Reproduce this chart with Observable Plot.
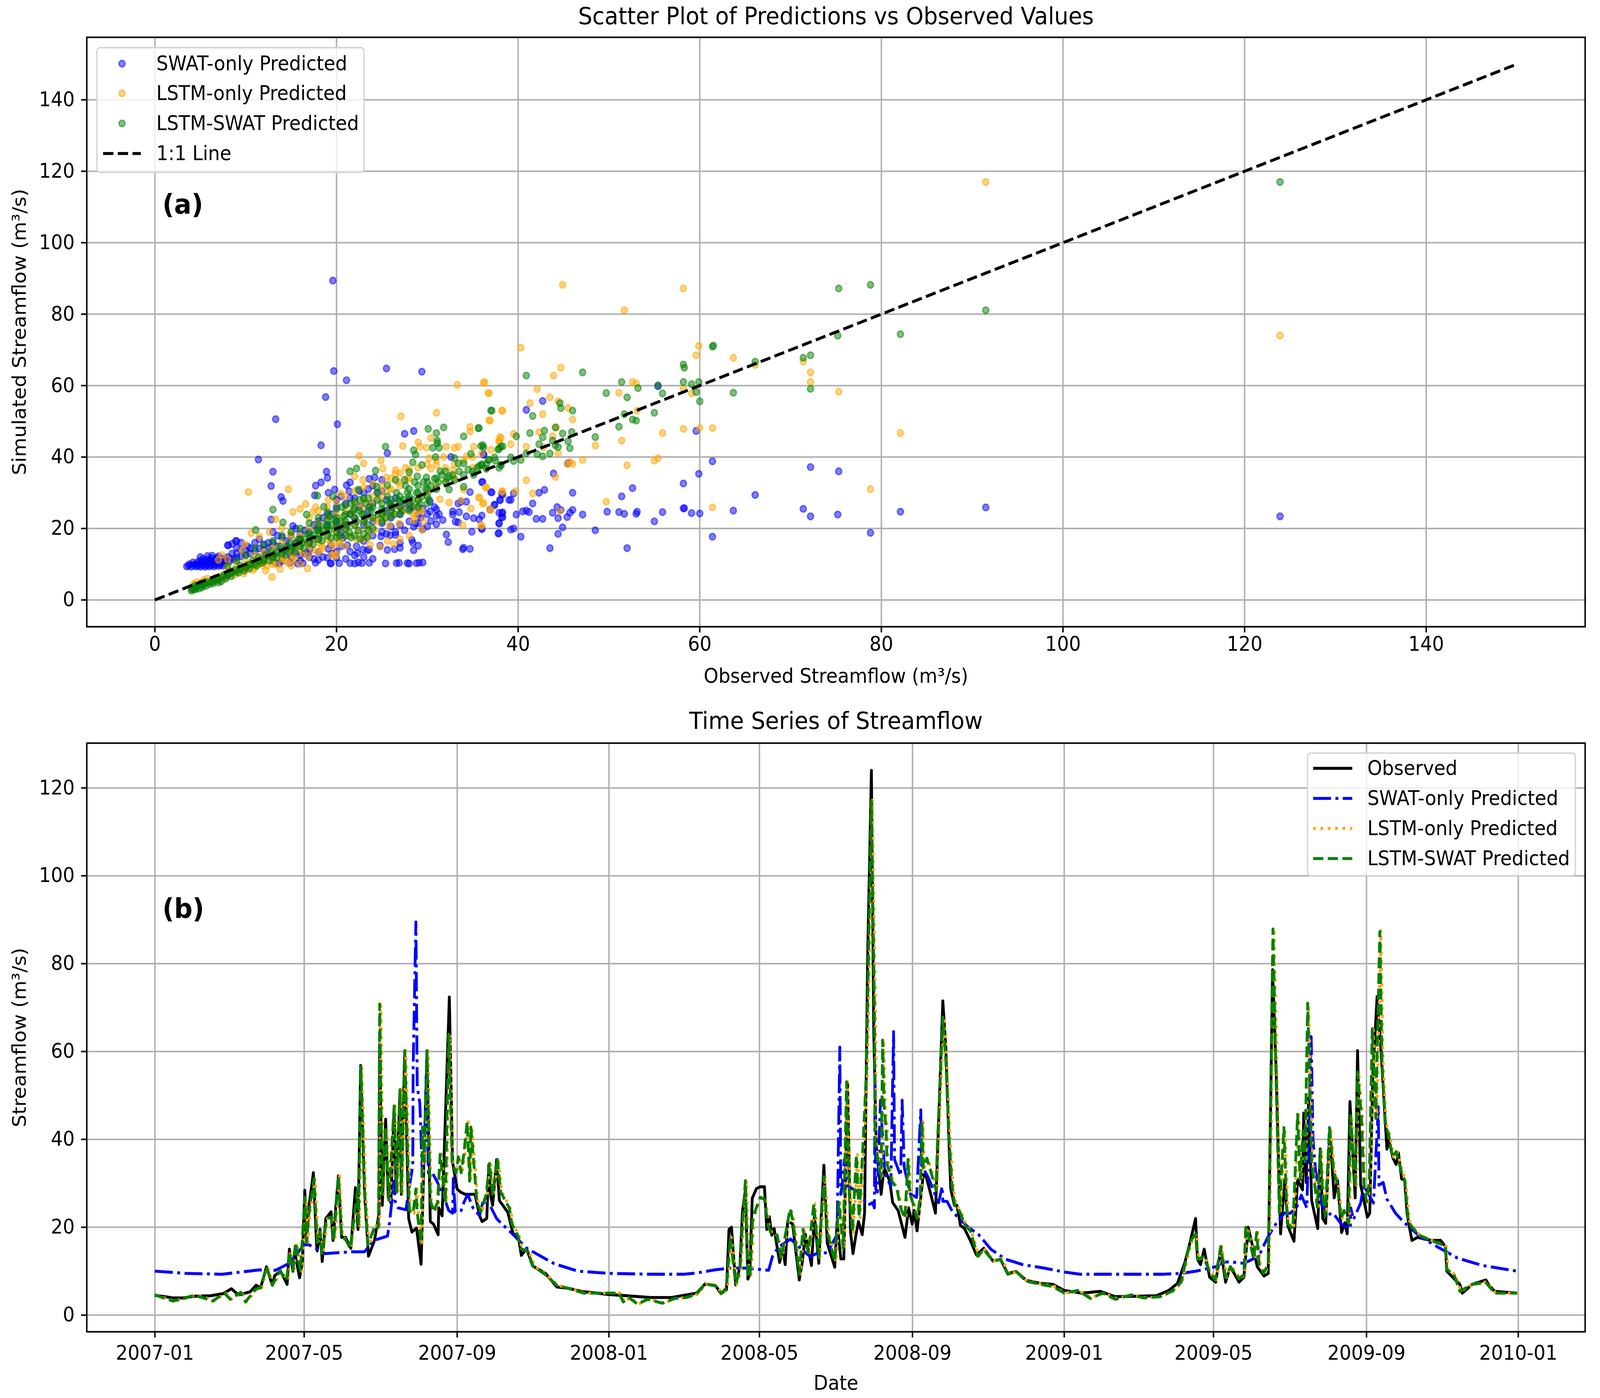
<!DOCTYPE html>
<html><head><meta charset="utf-8">
<script src="https://cdn.jsdelivr.net/npm/d3@7"></script>
<script src="https://cdn.jsdelivr.net/npm/@observablehq/plot@0.6"></script>
<style>
html,body{margin:0;padding:0;background:#fff;overflow:hidden}
#wrap{position:relative;width:4360px;height:3579px;overflow:hidden;font-family:"DejaVu Sans";color:#000;transform-origin:0 0}
#wrap svg{display:block}
.legend{position:absolute;box-sizing:border-box;background:rgba(255,255,255,.8);border:4px solid rgba(204,204,204,.8);border-radius:11px}
.row{position:absolute;font-size:51px;line-height:60px;white-space:nowrap}
.sw{position:absolute}
</style></head><body><div id="wrap"></div>
<script>
const axisTicks=[0,20,40,60,80,100,120,140];
const flowTicks=[0,20,40,60,80,100,120];
const dateTicks=["2007-01","2007-05","2007-09","2008-01","2008-05","2008-09","2009-01","2009-05","2009-09","2010-01"];
const scatterNames=["SWAT-only Predicted","LSTM-only Predicted","LSTM-SWAT Predicted"];
const lineNames=["Observed","SWAT-only Predicted","LSTM-only Predicted","LSTM-SWAT Predicted"];
const labelA="(a)",labelB="(b)";

// Panel (a): [observed, simulated]
const swatScatter=[[19.6,89.4],[25.5,64.8],[29.4,63.9],[19.7,64.1],[21.1,61.5],[18.8,56.8],[13.3,50.6],[20.1,49.2],[18.3,43.3],[28.5,47.3],[27.5,46.5],[25.6,41.1],[11.4,39.3],[13,35.9],[12.8,31.9],[18.9,35.9],[19,34.2],[18.3,32.9],[17.7,32],[13.9,28.8],[14.1,27.7],[17.6,29.3],[12.8,22.5],
[13.3,10.3],[13.7,10.2],[14.9,10.4],[15.7,10.2],[16.3,10.3],[17.7,10.4],[19.3,10.3],[19.4,10.2],[20.3,10.3],[21.5,10.3],[22,10.2],[22.4,10.5],[22.8,10.3],[23.6,10.4],[25.4,10.2],[26.6,10.3],[26.9,10.4],[27.8,10.3],[28,10.2],[28.8,10.3],[29.1,10.4],[29.5,10.5],
[32.1,18.3],[32.3,16.2],[33.9,14.2],[34,14.6],[34.7,14.3],[34.9,19.1],[37.8,18.6],[39.2,19.7],[36,19.8],[29,15.2],[28.3,16.8],[28.4,16],[28.5,13.9],[27,15.9],[27,14.6],[26.4,14.2],[25.6,14],[24.8,15.2],[24.9,17.8],[25.9,18.1],[26.5,18.2],[23.6,14.1],[23.4,13.9],[22.9,14.1],[22.3,13.1],[22.2,15],[21.2,15.3],[20.7,17.3],
[36.9,25.3],[37.4,26.5],[38,28],[38.2,29.7],[36,33],[37,30.2],[34.7,30.2],[36.2,40.7],[32.6,40],[39,28],[38.2,24.3],[38.2,23.1],[37.9,21.4],[36,23.6],[35.7,22.6],[35.1,22.9],[34.3,23.4],[33.5,24.6],[32.8,24.8],[32.8,23.9],[34.3,27.5],[33.7,27.5],[33.4,27],[33.1,21.9],[33.4,21.7],[31.7,22.4],[31,21.2],[31,25.3],[30.3,24.8],[30.3,27.5],[30.4,22.1],[29.3,23.1],[28.7,21.4],[31,23.5],[31.3,24],[30.8,26],[21.1,32.1],[21.5,32.9],[19.8,30.9],[19.1,30],[21.4,30.4],[23.6,33.9],[25,33.6],[24.2,34.3],[19.4,15.3],[19.1,14.3],[16.9,13.4],[17.1,14.3],[18,13.4],[15.2,20.7],[8.1,15.3],[8.9,16.5],
[42.7,55.7],[40.9,53.2],[36.2,40.7],[55.4,59.8],[59.6,47.3],[61.4,38.8],[59.9,35.3],[72.2,37.2],[75.3,36],[58.2,32.6],[52.6,31.3],[51.4,29],[66.1,29.4],[46,30],[42.9,30.8],[42.3,30],[43.9,35.4],[45.5,38.3],[36.1,33],[37.1,30.1],[38.3,29.5],[39.5,29.8],[38,27.9],[39.2,28],[41.6,27],[37.4,26.7],[44.3,26],[44.7,25.2],[46,25.2],[40.9,25],[40.5,24.8],[41.2,24.6],[39.8,23.9],[38.3,24.5],[37.9,24.4],[38.3,23.2],[42,22.7],[42.7,22.7],[43.8,24.4],[44.4,22.9],[45.4,23.2],[45.7,24.4],[47.1,23.9],[49.8,24.7],[51.1,24.6],[51.7,24.1],[53,24.1],[53.1,24.7],[55.9,24.6],[55,22],[58.2,25.6],[58.3,25.7],[59.1,24.3],[60,24.2],[63.7,25],[71.4,25.5],[72.2,23.4],[75.2,23.9],[82.1,24.7],[91.5,25.9],[78.8,18.8],[61.4,17.7],[52,14.5],[48.5,19.5],[44.9,20.3],[44.4,18.5],[43.5,14.5],[40.3,17.7],[39.5,20],[37.9,18.7],[37.9,21.5],[36,20],[123.9,23.4],
[3.5,9.4],[4,9.3],[4.5,9.4],[5,9.3],[5.5,9.3],[6,9.4],[6.5,9.4],[7,9.5],[7.5,9.6],[4.5,10],[5,10.2],[5.5,10],[6,10.2],[6.5,10.1],[7,10.3],[3.8,10],[5,11],[5.5,11],[6,11],[6.5,11.2],[7,11],[5,12],[5.8,12.3],[6.3,12.4],[7,12.2],[7.8,11.5],[8,12],[8.5,13],[9,13],[9.5,14],[8,15.3],[8.5,15.7],[9,16.5],[9.5,16],[10.2,15],[10.5,14.5],[9,14.6],[11,16],[11.5,17],[12,15.5],[12.5,14.5],[13,16],[13.5,18],[13,19],[14,17.5],[15,18],[16,18.5],[15.5,20],[14.5,15],[14,11],[15,12],[16,11],[16.5,13],[17,16],[17,19],[18,17],[18,20],[18.5,23],[19,21],[19.5,24],[20,22],[20,26],[20.5,19],[21,21],[21,27],[21.5,24],[22,23],[22,28.5],[22.5,26],[23,21],[23,30],[23.5,25],[24,22],[24,27],[24.5,30],[25,19],[25,21.5],[25.5,25],[26,20.5],[26,23],[27,21],[27,24],[27.5,27],[28,22],[28,25.5],[28.5,20.5],[29,24],[19.5,13],[19,11.8],[18.5,12],[20,13.5],[20.5,15],[21,11.5],[22,12.5],[23,12],[24,11.5],[17.5,11.5],[16,12.5],[14.8,13],
[3.7,9.6],[4.2,9.8],[4.7,9.6],[5.2,9.7],[5.7,9.6],[6.2,9.7],[6.7,9.8],[7.2,9.8],[7.7,10.2],[4.2,10.5],[4.7,10.6],[5.2,10.6],[5.7,10.6],[6.2,10.6],[6.7,10.7],[7.2,10.8],[7.7,11],[8.2,10.8],[8.7,11.4],[5.3,11.5],[5.8,11.4],[6.3,11.7],[6.8,11.7],[7.4,11.6],[8.3,11.6],[9,11.8],[9.5,12.2],[10,12.6],[10,14],[10.5,13],[11,13.8],[11.5,14.4],[12,14],[12.5,16],[13.5,15],[14.5,16.5],[15,14.5],[15.5,16],[16,17],[16.5,19.5],[17.5,21],[18,22],[19,24],[20,28],[20.5,29],[21.5,28.5],[22.5,30.5],[23.5,31],[24,32],[25,30.5],[25.5,28],[26,26],[26.5,28.5],[27,26],[28,28],[28.5,26],[29.5,25.5],[30,24],[29,21.5],[29.5,19.8],[30,20.6],[27.5,19.5],[26.5,19],[25.5,18.5],[24,18],[23,16.5],[21.5,13.5],[20,11.8],[18,11.2],[17,12],[15.5,13],[14,13],[13,12.5],[12,11.5],[13,11],[11.5,11]];

const lstmScatter=[[91.5,117],[123.9,74],[44.9,88.2],[58.2,87.2],[51.7,81.1],[40.3,70.6],[59.9,71.1],[59.6,68.5],[63.7,67.8],[66.1,65.8],[71.4,66.7],[72.2,63.7],[72.2,61],[75.3,58.3],[44.7,65],[43.9,62.8],[36.3,61],[36.8,57.9],[42.1,59],[43.5,56.7],[41.3,55.1],[44.4,55.6],[45.5,53.7],[52.6,61],[53,60.6],[51.1,58],[38.3,53],[42.7,52],[46,50.5],[36.9,50.2],[58.2,59.1],[59.1,57.8],[53.1,53],[44.2,48.3],[42.3,47],[39.5,46.5],[38.1,45.3],[37.9,44.6],[43.8,45.8],[58.2,47.9],[60,48.1],[61.4,48.1],[82.1,46.7],[55.9,46.7],[51.4,44.6],[48.5,43.2],[39.2,43.6],[40.9,42.9],[42.8,42.7],[44.4,41.1],[55.4,39.7],[55,39],[47.1,39.2],[45.7,38.6],[46,38.1],[45.4,38],[52,37.7],[44.1,34.4],[40.9,33.5],[41.6,29.8],[39.7,30.4],[38.3,30.4],[36.5,31.5],[49.7,27.5],[35.7,28.7],[36.2,27.1],[78.8,31],[61.4,25.9],[44.6,24.9],[37,25.2],[36,20.8],
[33.3,60.2],[36.2,60.8],[36.7,57.9],[31,52.4],[27.1,51.4],[38.2,53],[36.8,50.3],[34.7,48.4],[34.7,47.2],[30.4,45.3],[29,44.1],[29.2,42.9],[27.3,43.1],[29.9,42.6],[32.1,42.9],[33,42.6],[33.4,42.9],[35.1,42.9],[38,45.6],[37.9,44.3],[22.5,40.3],[23,38.2],[24.9,39],[30.2,39.7],[31.8,40],[34.3,40.2],[25.1,36.8],[26.5,36.3],[30.4,36.8],[31,37.8],[32.8,36.3],[22,34.6],[22.9,33.6],[25.5,34.3],[26.5,35.3],[27.6,37],[36.4,31.5],[34,30.9],[38.2,30.4],[35.7,28.6],[36.1,27],[31.4,28.2],[32.4,27.3],[33.7,27.8],[14.7,31],[10.3,30.2],[15.2,24.6],[13.3,22.6],[16.6,26.9],[17.7,26],[17.4,24.6],[19.1,28],[20.5,29.7],[36.9,25.3],[34.8,25.6],[33.9,20.9],[35.9,20.9],[29.4,19.6],[28.7,23.6],[29.4,24.8],[28.5,22.1],[26.9,21.4],[25.8,20.9],[24.2,19.6],[24.8,22.4],[23.5,18],[23.7,15.4],[22.9,17],[22.2,17],[25.6,16.5],[26.3,15.6],[20.2,15.8],[19.5,15],[19.5,12.6],[19.8,12.4],[18.4,14.3],[18,13.4],[16.9,12.1],[16.8,8.8],[15.2,11.4],[14.6,10.4],[14,11.4],[13,10],[11.9,9.7],[12.9,6.4],[10.6,18.7],[12.6,19],[14,20.2],[15,18.7],[11.5,17.8],[9.9,15.6],[7.4,12.6],[7,11.2],[8,11.4],[9.6,13.9],
[4,3.5],[4.6,5],[5,4.2],[5.4,5.6],[6,5],[6.6,6.2],[7,5.7],[8,6.8],[9,7.8],[10,8.5],[10.5,9.2],[11,9],[12,10.5],[13,11],[14,12],[15,13],[16,14],[17,15],[18,16],[19,17],[8,9],[9,10],[10,11],[11,12.5],[12,13.5],[13,14.5],[14,16],[15,17.5],[16,18],[17,20],[18,21.5],[19,23],[20,24],[21,25],[22,27],[23,28],[24,29],[25,30],[26,31],[27,32],[28,34],[20,18],[21,20],[22,21],[23,22],[24,23],[25,24],[26,25],[27,26],[28,27],[29,28],[30,30],[31,32],[32,33],[33,34],[35,37],
[4.3,4.5],[5.2,5],[5.8,6],[6.4,5.4],[7.2,6.6],[7.6,5.8],[8.4,8],[8.8,7],[9.4,8.6],[9.8,7.4],[10.4,10],[10.8,8.4],[11.4,10],[11.8,11.8],[12.4,9.6],[12.8,12],[13.4,10],[13.8,13],[14.4,11],[14.8,14],[15.4,12],[15.8,15],[16.4,13],[16.8,16],[17.4,14],[17.8,17],[18.4,15],[18.8,19],[19.4,16],[19.8,20],[20.4,16.5],[20.8,22],[21.4,18],[21.8,24],[22.4,19],[22.8,26],[23.4,20],[23.8,27],[24.4,22],[24.8,28],[25.4,23],[25.8,31],[26.4,24],[26.8,33],[27.4,25],[27.8,34],[28.4,24],[28.8,26],[29.6,22],[29.2,25],[16,25.5],[17,23],[18,25],[19,26],[20,27.5],[21,29],[22,30.5],[23,31.5],[24,32.5],[25,32],[26,34],[27,35.5],[28,36.5],[29,37],[30,38],[31,39],[32,37],[33,38],[34,39],[35,40],[36,41],[37,42],[28,18],[27,17],[24.8,14.8],[21,15],[20,12.8],[16,10],[15,9.6],[13.8,8.6],[12.2,8.2]];

const hybridScatter=[[123.9,117],[91.5,81.1],[78.8,88.2],[75.3,87.2],[82.1,74.4],[75.2,74],[61.4,70.9],[61.5,71.2],[72.2,68.5],[71.4,67.8],[66.1,66.7],[58.2,65.9],[58.3,65],[47.1,63.7],[40.9,62.8],[51.4,61],[58.2,61],[59.1,60.4],[59.9,61],[55.4,60.1],[53.2,59.3],[49.7,57.9],[55.9,57.8],[52,56.7],[63.7,58],[72.2,59.1],[59.6,58.2],[60,55.6],[44.6,55.1],[44.7,53.7],[46,53],[37.1,53],[35.7,48.1],[41.6,51.5],[55,52.4],[51.7,52],[52.6,50.5],[53,50.2],[51.1,48.5],[44.1,48.3],[42.9,47.4],[41.3,46.7],[44.9,46.6],[45.9,47],[39.8,45.8],[42.7,45.5],[48.5,45.6],[43.8,44.6],[45.5,44.4],[44.1,43.3],[44.4,42.8],[45.7,42.5],[42.3,43.6],[36.1,43.3],[38.3,43],[37.9,42.4],[40.9,41],[42.1,40.8],[43.5,41],[42.7,40.2],[40.3,39.2],[39.2,39.9],[39.5,38.9],[37.4,39.9],[36.7,39.2],[36,37.7],[38.1,37.7],[37.9,37],[36.5,36.7],
[37,53],[30.1,47.9],[31.8,48.3],[31,46.7],[35.6,48.1],[34,45.8],[31.1,44.6],[31.1,43.9],[25.4,42.9],[28.5,41.9],[30.6,42.6],[31.3,42.6],[35.9,43.1],[36.2,42.7],[38.1,42.9],[37.8,42.1],[34.8,40.9],[28.7,40.7],[30.9,40],[33,39.7],[28.4,38.5],[29.4,37.8],[33.4,38.2],[34,38.2],[36.8,39.2],[35.7,37.5],[38.1,37.8],[28,35.8],[22.2,36.8],[21.5,36],[24.3,36.2],[28.9,34.6],[31.4,36],[29.9,34.3],[27.5,33.6],[26.5,33.6],[32.4,34.6],[35.1,35],[34,31.7],[13,25.3],[14.1,21.7],[11.1,19.6],[17.9,29.2],[18.6,26.1],[19.6,29],[16.7,23.9],[22.4,30.9],[25.6,32.1],[24.4,31.7],[23.5,28.5],[32.4,30.9],
[4,2.6],[4.2,3.5],[4.5,3],[4.8,4],[5.2,3.6],[5.5,4.6],[6,4.4],[6.5,5.2],[7,5.6],[7.5,6.4],[8,6.8],[8.5,7.6],[9,8],[9.5,8.8],[10,9],[10.5,10],[11,10],[11.5,11],[12,11],[12.5,12.4],[13,12],[13.5,13.4],[14,13],[14.5,14.5],[15,14],[15.5,15.6],[16,15],[16.5,17],[17,16],[17.5,18],[18,17],[18.5,19.5],[19,18],[19.5,21],[20,19],[20.5,22],[21,20],[21.5,24],[22,21],[22.5,25],[23,22],[23.6,26],[23.5,19.5],
[8,9.5],[9,11],[10,12.5],[11,14.5],[12,15.5],[13,16.5],[14,18],[15,19],[16,20],[17,21.5],[18,23],[19,24.5],[20,25.5],[21,26.5],[22,27.5],[23,28.5],[24,23],[25,24],[25,27],[26,25],[26,28],[27,26],[27,29],[28,27],[28,31],[29,28],[29,30],[30,29],[30,33],[31,31],[31,34],[32,33],[32,36],[33,33.5],[34,35],[35,36],[36,38],
[16,17],[17,18.5],[18,19.5],[19,20.5],[20,21],[21,22],[22,23],[23,24],[20,23],[21,24],[22,25.5],[19,22.5],[18,21],[24,26],[25,25.5],[26,27],[27,27.5],[28,29],[29,32],[30,31],[24,20],[23,18.5],[22,18],[21,18],[20,17.5],[25,22],[26,23.5],[27,24],[28,25],[29,26],[30,27],[24.5,28],[24.5,30],
[4.1,3],[4.3,2.9],[4.4,4],[4.6,3.6],[4.9,3.2],[5,4.5],[5.3,4.2],[5.6,3.9],[5.8,5],[6.2,5],[6.4,4.6],[6.8,5.8],[7,4.9],[7.3,5.2],[7.6,7],[7.8,6],[8.2,7.4],[8.4,6.6],[8.8,8.4],[9.2,7.6],[9.4,9.6],[9.8,8.2],[10.2,9.8],[10.4,8.8],[10.8,11],[11.2,9.6],[11.4,12],[11.8,10.4],[12.2,12.6],[12.6,11],[12.8,13.8],[13.2,12.8],[13.4,11.8],[13.8,15],[14.2,14],[14.4,12.6],[14.8,16],[15.2,15],[15.4,13.5],[15.8,17],[16.2,16],[16.4,14.5],[16.8,18.5],[17.2,17.4],[17.4,15.6],[17.8,19.6],[18.2,18.4],[18.4,16.6],[18.8,21],[19.2,19.4],[19.4,17.4],[19.8,22.5],[19.2,23.5],[20.2,20],[20.4,18],[20.8,23.5],[20.6,26],[21.2,21],[21.4,19],[21.8,25],[21.6,27],[22.2,22],[22.4,19.5],[22.8,24],[22.6,28],[23.2,23],[23.4,21],[23.8,25],[23.2,27],[23.4,17.5],[22.6,17],[21.6,17.5],[24.6,24],[25.2,25],[25.4,23],[25.8,27],[25.6,29],[26.2,26],[26.4,24],[26.8,28],[26.6,30],[27.2,25],[27.4,28],[27.8,30],[27.6,32],[28.2,26],[28.4,28],[28.8,30],[28.6,33],[29.2,27],[29.4,29],[29.8,31],[29.6,33],[30.2,28],[30.4,32],[30.8,34],[31.2,33],[31.6,35],[32.2,34],[32.8,35],[33.5,36],[34.5,36.5],[35.5,37],[36.5,38],[37.5,39]];

const line11=[[0,0],[150,150]];

// Panel (b): [days since 2007-01-01, streamflow]
const observedSeries=[[0,4.5],[8,4.2],[14.5,3.9],[22,3.9],[32,4.3],[44.6,4.4],[55,4.9],[61.5,6],[67.2,4.6],[76.6,5.3],[81.3,6.8],[85,6.2],[89.7,11],[94.4,6.8],[96.3,9],[101,10],[106.3,7],[108.1,15],[111,10],[112.3,14.5],[116.3,8.5],[118.5,12],[120.5,28.4],[122,16.5],[123.7,24.4],[127.4,32.4],[130,15.8],[130.5,14.6],[132.7,19.5],[134.5,12.2],[137.4,22],[141.6,23.5],[143.2,17],[147.5,31.7],[150.1,17.7],[153.3,17.7],[157.5,15.2],[161.2,29],[163.3,19.5],[165.4,56.8],[168.6,27.5],[171.7,13.4],[176.5,17],[180.2,23.2],[180.7,61.7],[182.8,25],[185.5,44.6],[187.6,26.8],[189.7,25.6],[192.3,47],[193.9,28],[197,50.7],[198.1,27.5],[200.8,59.9],[204,22],[206.6,18.9],[210.3,19.8],[214,11.6],[218.7,59.9],[221.4,21.3],[224,20.7],[227.7,18.3],[228.2,24.4],[230.9,22.6],[236.7,72.4],[239.3,34.8],[243,28.7],[245.7,28],[249.4,27.5],[253,27.5],[257.3,27.5],[261,22.6],[263,21.3],[266.8,22],[268.4,34.2],[270.2,26.8],[271.5,25],[274.7,35.4],[276.9,26.1],[283.7,23.4],[287.9,18.6],[292,18],[294.6,13.6],[298.7,15.2],[303.7,11.2],[314,9.5],[323.1,6.4],[332.6,6.1],[342.6,5.4],[364.7,4.7],[398.6,4],[415.4,4],[435.5,5],[442.3,7.1],[450.7,6.7],[455.1,4.9],[459.5,5.8],[461.5,19.5],[463.5,20],[466.9,6.9],[470.3,11.1],[472.3,23.5],[474.7,28.4],[476.7,8.2],[478.2,9.3],[480.2,26.6],[483.6,28.8],[486.5,29.2],[490,29.2],[491.9,19.5],[493.9,22.4],[495.9,18.2],[497.8,19.7],[502.2,12],[504.7,15],[506.7,11.5],[508.6,21.3],[512.6,20.8],[518,8],[520.4,12],[522.9,18.4],[527.8,11.3],[530.2,22.6],[533.7,11.8],[537.8,34.1],[540.5,16.4],[546.5,10.9],[548.4,21.3],[551.4,12.8],[553.8,12.8],[556.8,53],[559.2,18.9],[561.2,14],[563.6,18.3],[565.6,21.3],[568.6,18.3],[570.5,23.2],[573,82.2],[576,124],[577.9,64],[579.9,38.5],[583.8,27.5],[586.2,33.6],[590.7,30.5],[593.1,25.6],[597.5,23.8],[603,17.7],[605.9,24.4],[608.8,20.7],[610.3,23.8],[612.7,19.2],[615.2,25.6],[617.7,32],[620.1,31.4],[624,27.2],[627.5,23.2],[633.4,71.5],[635.8,61],[638.3,39.7],[639.8,28.7],[642.7,25],[644.7,25],[647.6,20.4],[650.6,19.8],[655.5,17],[660.4,13.7],[666.3,15.2],[673.8,12.3],[679.7,12.7],[685.6,9.5],[692.4,9.9],[700.5,7.9],[712,7.2],[722,7],[731,5.6],[745,5],[760,5.4],[772,4.2],[790,4.3],[805,4.4],[815,5.6],[822,7.2],[828,12],[832,16.4],[836.6,22],[838.1,12.7],[840.6,11.5],[843.5,15],[847.9,8.6],[852.8,7.5],[856.8,15],[860.7,7.5],[864.6,11],[871.5,7.5],[875.4,8.6],[878.9,20],[886.2,11],[891.6,8.9],[895,9.5],[898.5,78.6],[901.4,55.3],[904.9,18.5],[908.3,30.8],[910.8,20.3],[915.7,16.8],[918.6,30.8],[922.6,28.5],[923.5,46],[925.5,30.2],[927.5,49.4],[929.9,26.1],[934.8,19.7],[936.8,37.8],[938.8,22],[941.2,20.9],[944.5,42.4],[948,26.7],[950.6,31],[954,18.8],[956.5,21],[958.5,18.5],[960.7,48.6],[964.9,26.7],[966.8,60.2],[969.3,29.6],[972,26],[974.7,22.3],[976.6,23.2],[979.1,55],[982.5,72.5],[985.5,61],[990.4,37.8],[991.9,39.8],[995.3,35.7],[997.8,34.3],[999.7,36.9],[1002.2,31],[1004.6,30.8],[1006.6,23.2],[1008.1,20.6],[1010.5,17],[1015,17.7],[1025.7,17],[1033.6,17],[1037.5,15.6],[1038.5,10],[1045.4,8],[1049,7],[1051,5],[1059,7],[1070,8],[1072,7],[1077,5.4],[1095,5]];

const swatSeries=[[0,10],[25,9.5],[54,9.3],[84,10.3],[97,10.2],[108,11.8],[120,16],[124,16],[137,14],[157,14.4],[168.5,14.4],[176,17],[187,18],[188.6,21],[192.3,30.5],[193,26],[195.5,24.4],[201.8,24],[205,30],[207.3,34],[207.6,56],[209.8,89.5],[210.9,52],[213,48.2],[215,31.7],[216.6,36.6],[218.2,55],[219.8,32.4],[223,32.4],[227.2,30.2],[230.3,28],[234,25.6],[236.2,23.8],[239.3,23.2],[239.9,31.1],[241.4,23.5],[246.2,23.8],[248.3,25.6],[251.5,27.5],[255.7,24.4],[261,22.6],[264,26.2],[269.3,25],[274.7,22],[278,21],[287,18.6],[299,15.2],[309,13.6],[321,11.7],[340,10],[365,9.5],[399,9.3],[425,9.3],[436,9.6],[450,10.3],[463,10.7],[476,10.7],[486.5,10.4],[493.4,10.2],[496.4,13.3],[501.3,15.5],[511,17.3],[516,16],[526.8,13.3],[531.7,14],[540.5,14.2],[548.4,18.3],[550.6,61],[551.4,27.5],[552.3,29.2],[554.3,35.4],[557.3,29.3],[561.2,28.7],[567.1,27.5],[573,25],[576.9,25.6],[578.4,24.4],[578.9,55.6],[579.5,28.7],[580.8,28],[583.3,48.9],[586.7,32.4],[591.6,29.3],[593.8,64.5],[594.6,35.4],[599.5,31.7],[600.7,48.9],[602.4,33.6],[607.3,27.5],[612.3,26.8],[615.7,46.7],[616.2,34.2],[622.1,31.1],[628,26.8],[630,25.6],[632.9,29.3],[633.4,25.9],[636.8,25.9],[641.2,23.5],[646.6,22],[653.5,20.1],[662.3,18.3],[672,15],[684,12.7],[697.5,11.5],[715,10.7],[731,9.8],[744,9.3],[780,9.3],[810,9.3],[825,9.5],[837,10],[843,10.4],[852.8,11],[858.7,12.1],[864.6,12.1],[875.4,11.8],[882.3,12.7],[888.2,13.9],[892,16.2],[894.6,17.7],[900,20.3],[907.8,23.2],[912.7,23.2],[917.6,24.4],[921.6,27.3],[926,24.4],[926.6,30.2],[929.5,63.4],[931,40],[933,33],[935.4,29],[937.9,25.2],[943.3,22.9],[947.2,23.2],[954,20.6],[961,19.7],[961.4,24.4],[963.4,21.7],[969.3,25.5],[971.7,29.6],[979.6,25.5],[983.5,47.4],[984,29.6],[987.4,30.2],[990.4,26.4],[997.3,23.2],[1002.2,21.7],[1007.1,20.3],[1017.9,17.7],[1030.7,15.6],[1047,13],[1067,11.3],[1095,10]];

const lstmSeries=[[0,4.6],[14.5,3.2],[22,3.7],[31.4,4.5],[38,4.2],[46.5,3.2],[55.9,5],[60.6,3.6],[69,5.2],[72.8,3],[81.3,6],[85,6.2],[89.7,11],[94.4,6.8],[100.5,10],[106,8],[108,14.5],[111,10.2],[113,16.5],[117,10],[120.8,26.5],[122,16.5],[123.7,23],[127.9,31],[130.5,16.5],[132.7,19],[134.3,14],[138,22],[141.6,22.3],[143.8,17],[147.5,31.7],[150.1,17.7],[153.3,17.2],[157,15.2],[162.8,28.4],[163.6,20],[165.6,56.2],[168.6,28],[171.2,16],[177,20.4],[179.7,20],[180.7,70.5],[182.8,27.5],[185.5,42.8],[188,26.2],[192.3,47.6],[194.4,28],[197,51.3],[198.1,28],[200.8,60.2],[204.5,23.8],[207.6,23.2],[209.8,28.7],[210.9,23.2],[214,16.5],[215.1,42.8],[216.6,35],[218.7,60.2],[221.4,26.2],[224,23.5],[227.2,25.6],[229.3,36.6],[233.5,25.6],[236.2,63.9],[238.9,34.8],[242,32.4],[244,36],[246.2,32.4],[248.3,36.6],[251,44],[253,30.5],[254,42.8],[258.9,25.6],[262,23.5],[266.3,27.5],[269,34.5],[271.5,27.5],[275.2,35.7],[278,28],[285,24.3],[287,20.7],[292,18],[294,15.2],[300,14.4],[304,11.2],[314,9.2],[323,6.8],[332,6.1],[345,5],[373,5],[376.5,3],[381,4],[388,2.5],[396,3.6],[408,2.7],[418,3.8],[427,4],[435.5,4.8],[442.3,7.1],[450.7,6.7],[455,5],[459.5,6.2],[462.5,17.7],[466.9,7.1],[470.3,10.2],[472.8,23],[474.7,30.6],[476.7,8.5],[478.5,9.3],[480.6,22.2],[486.5,26.8],[490,26.4],[492.9,20.4],[495.9,18.2],[500.3,18.2],[503.2,12.9],[506.2,17.3],[510.6,24.2],[513,21.3],[518,9.3],[520.9,19.5],[525.3,14.2],[529.7,25.3],[533.7,13.1],[537.8,31.5],[540.5,19],[546.7,12.1],[549.9,25.6],[553.3,15.2],[556,53.1],[558.2,27.5],[560.7,18.9],[563.9,36.5],[566.1,22.2],[569.5,40.3],[571.9,54.9],[575.9,117.2],[578.4,70],[578.9,39.7],[581.8,33.6],[583.8,31.7],[585,62.6],[586.2,47.6],[587.7,42.8],[588.7,34.2],[592.6,30.5],[596.5,28.7],[599.5,24.4],[602.9,22],[605.4,35.4],[606.9,27.5],[609.3,25.6],[612.7,22],[615.2,26.8],[616.7,44],[617.7,33.6],[620.6,35.7],[624,32.4],[628,28.4],[628.9,37.9],[633.4,67.8],[635.8,58],[638.3,40.9],[640.7,29.9],[643,25.2],[646.6,23.8],[651.5,20.4],[655.5,19.2],[661.4,13.4],[666.3,14.9],[673.8,12.3],[679.7,12.9],[685.6,9.3],[692.4,9.9],[700.5,7.7],[712,7.1],[722,6.6],[731,5],[742,5.5],[752,4],[762,5],[772,3.8],[785,4.6],[795,4],[808,4.2],[818,5.5],[825,7.5],[830,14],[833,17],[836.6,18.6],[838.1,12.7],[843,13.3],[847.9,9.8],[852.3,8],[856.8,15.6],[860.7,8.6],[864.6,11],[871.5,8.3],[875.4,9.2],[876.9,20],[878.9,18.5],[883.3,12.7],[885.7,18.8],[887.7,11.5],[891.1,9.5],[895,11.5],[898.8,87.9],[901.4,52.4],[903.9,23.2],[907.6,42.5],[910.3,20.9],[914.7,19.7],[918.6,45.5],[920.6,30.8],[923,41.9],[924.5,34.9],[926.7,70.6],[929.9,34.3],[932.4,29.6],[934.4,24.8],[936.9,37.5],[938.8,27.3],[940.8,23],[944.2,42.7],[947.5,33],[950.6,29.8],[953.6,22],[956,23.6],[959.5,20.9],[961.1,45.4],[964.9,29],[966.8,55.3],[969.8,45.7],[972.2,28.5],[974.2,25.8],[976.2,30.2],[978.6,65],[981.4,44.8],[984.7,87.5],[986.5,57.6],[988.9,43.6],[991.9,41],[994.8,36],[997.8,37.2],[1002.2,32.5],[1004.6,30.8],[1007.6,21.5],[1010,20.3],[1016,18.2],[1025.7,17],[1033.6,16.2],[1037.5,15.6],[1038.5,10.4],[1044.4,9.2],[1049,5.4],[1059,7],[1070,7.6],[1077,5],[1095,5]];

const hybridSeries=[[0,4.6],[14.5,3.2],[22,3.7],[31.4,4.5],[38,4],[46.5,3.2],[55.9,5],[60.6,3.6],[69,5.2],[72.8,3],[81.3,6],[85,6.2],[89.7,11],[94.4,6.8],[100.5,10],[106,8],[108,14.5],[111,10.2],[113,16.5],[117,10],[120.5,26.8],[122,16.5],[123.7,23],[127.9,31],[130.5,16.5],[132.7,19],[134.3,14],[138,22],[141.6,22.3],[143.8,17],[147.5,31.7],[150.1,17.7],[153.3,17.2],[157,15.2],[162.8,28.4],[163.6,20],[165.6,56.5],[168.6,28],[171.2,16],[177,20.4],[179.7,20],[180.7,70.8],[182.8,27.5],[185.5,42.8],[188,26.2],[192.3,47.6],[194.4,28],[197,51.3],[198.1,28],[200.8,60.2],[204.5,23.8],[207.6,23.2],[209.8,28.7],[210.9,23.2],[214,16.5],[215.1,42.8],[216.6,35],[218.7,60.2],[221.4,26.2],[224,23.5],[227.2,25.6],[229.3,36.6],[233.5,25.6],[236.2,63.9],[238.9,34.8],[242,32.4],[244,36],[246.2,32.4],[248.3,36.6],[251,44],[253,30.5],[254,42.8],[258.9,25.6],[262,23.5],[266.3,27.5],[269,34.5],[271.5,27.5],[275.2,35.7],[278,28],[285,24.3],[287,20.7],[292,18],[294,15.2],[300,14.4],[304,11.2],[314,9.2],[323,6.8],[332,6.1],[345,5],[373,5],[376.5,3],[381,4],[388,2.5],[396,3.6],[408,2.7],[418,3.8],[427,4],[435.5,4.8],[442.3,7.1],[450.7,6.7],[455,4.9],[459.5,6.2],[462.5,17.7],[466.9,7.1],[470.3,10.2],[472.8,23],[474.7,30.6],[476.7,8.5],[478.5,9.3],[480.6,22.2],[486.5,26.8],[490,26.4],[492.9,20.4],[495.9,18.2],[500.3,18.2],[503.2,12.9],[506.2,17.3],[510.6,24.2],[513,21.3],[518,9.3],[520.9,19.5],[525.3,14.2],[529.7,25.3],[533.7,13.1],[537.8,31.5],[540.5,19],[546.5,12.2],[549.9,25.6],[553.3,15.2],[556,53.1],[558.2,27.5],[560.7,18.9],[563.9,36.5],[566.1,22.2],[569.5,40.3],[571.9,54.9],[575.9,117],[578.4,70],[578.9,39.7],[581.8,33.6],[583.8,31.7],[585,62.6],[586.2,47.6],[587.7,42.8],[588.7,34.2],[592.6,30.5],[596.5,28.7],[599.5,24.4],[602.9,22],[605.4,35.4],[606.9,27.5],[609.3,25.6],[612.7,22],[615.2,26.8],[616.7,44],[617.7,33.6],[620.6,35.7],[624,32.4],[628,28.4],[628.9,37.9],[633.4,67.8],[635.8,58],[638.3,40.9],[640.7,29.9],[643,25],[646.6,23.8],[651.5,20.4],[655.5,19.2],[661.4,13.4],[666.3,14.9],[673.8,12.3],[679.7,12.7],[685.6,9.3],[692.4,9.9],[700.5,7.7],[712,7],[722,6.5],[731,5],[742,5.6],[752,3.8],[762,5],[772,3.6],[785,4.6],[795,3.9],[808,4.2],[818,5.5],[825,7.5],[830,14],[833,17],[836.6,18.5],[838.1,12.7],[843,13.3],[847.9,9.8],[852.3,8],[856.8,15.6],[860.7,8.6],[864.6,11],[871.5,8.3],[875.4,9.2],[876.9,20],[878.9,18.5],[883.3,12.7],[885.7,18.8],[887.7,11.5],[891.1,9.5],[895,11.5],[898.8,87.9],[901.4,52.4],[903.9,23.2],[907.6,42.7],[910.3,20.9],[914.7,19.7],[918.6,45.7],[920.6,30.8],[923,41.9],[924.5,34.9],[926.7,71],[929.9,34.3],[932.4,29.6],[934.4,24.6],[936.9,37.5],[938.8,27.3],[940.8,22.6],[944.2,42.7],[947.5,33.2],[950.6,29.6],[953.6,22],[956,23.8],[959.5,20.9],[961.1,45.4],[964.9,29],[966.8,55.3],[969.8,45.7],[972.2,28.5],[974.2,25.8],[976.2,30.2],[978.6,65.2],[981.4,44.8],[984.7,87.3],[986.5,57.6],[988.9,43.6],[991.9,41],[994.8,36],[997.8,37.2],[1002.2,32.5],[1004.6,30.8],[1007.6,21.5],[1010,20.3],[1016,18.2],[1025.7,17],[1033.6,16.2],[1037.5,15.6],[1038.5,10.4],[1044.4,9.2],[1049,5.4],[1059,7],[1070,7.4],[1077,5],[1095,5]];

const colors={swat:"#0000ff",lstm:"#ffa500",hybrid:"#008000",obs:"#000000"};
const startMs=Date.UTC(2007,0,1),dayMs=864e5;
const toRows=s=>d3.sort(s,r=>r[0]).map(r=>({date:new Date(startMs+r[0]*dayMs),v:r[1]}));
const tickDates=dateTicks.map(t=>new Date(t+"-01T00:00:00Z"));
const svgStyle={fontFamily:"DejaVu Sans",background:"#fff",color:"#000"};
const gridOpts={stroke:"#b0b0b0",strokeOpacity:1,strokeWidth:4};
const dashed={strokeLinecap:"butt",strokeLinejoin:"round",strokeWidth:7.6};
const dots=(arr,c)=>Plot.dot(arr,{x:d=>d[0],y:d=>d[1],r:8.5,fill:c,fillOpacity:.5,stroke:c,strokeOpacity:.5,strokeWidth:3.6});

const chartA=Plot.plot({width:4360,height:1790,marginTop:95,marginBottom:186,marginLeft:236,marginRight:41,style:svgStyle,
  x:{domain:[-7.5,157.5]},y:{domain:[-7.5,157.5]},
  marks:[
    Plot.gridX(axisTicks,gridOpts),Plot.gridY(axisTicks,gridOpts),
    dots(swatScatter,colors.swat),dots(lstmScatter,colors.lstm),dots(hybridScatter,colors.hybrid),
    Plot.line(line11,{x:d=>d[0],y:d=>d[1],stroke:"#000",strokeDasharray:"28,12",...dashed}),
    Plot.frame({stroke:"#000",strokeWidth:4}),
    Plot.axisX({ticks:axisTicks,tickSize:15,tickPadding:10,fontSize:51,strokeWidth:4,label:"Observed Streamflow (m³/s)",labelAnchor:"center",labelArrow:"none",labelOffset:143}),
    Plot.axisY({ticks:axisTicks,tickSize:15,tickPadding:18,fontSize:51,strokeWidth:4,label:"Simulated Streamflow (m³/s)",labelAnchor:"center",labelArrow:"none",labelOffset:202}),
    Plot.text(["Scatter Plot of Predictions vs Observed Values"],{frameAnchor:"top",dy:-53,lineAnchor:"middle",fontSize:61}),
    Plot.text([labelA],{frameAnchor:"top-left",dx:206,dy:429,lineAnchor:"middle",fontSize:70,fontWeight:"bold",textAnchor:"start"})
  ]});

const chartB=Plot.plot({width:4360,height:1789,marginTop:112,marginBottom:170,marginLeft:236,marginRight:41,style:svgStyle,
  x:{type:"utc",domain:[new Date(startMs-54.75*dayMs),new Date(startMs+1149.75*dayMs)]},y:{domain:[-3.8,130.2]},
  marks:[
    Plot.gridX(tickDates,gridOpts),Plot.gridY(flowTicks,gridOpts),
    Plot.line(toRows(observedSeries),{x:"date",y:"v",stroke:colors.obs,...dashed}),
    Plot.line(toRows(swatSeries),{x:"date",y:"v",stroke:colors.swat,strokeDasharray:"49,12,8,12",...dashed}),
    Plot.line(toRows(lstmSeries),{x:"date",y:"v",stroke:colors.lstm,strokeDasharray:"7.6,12.5",dx:3,...dashed}),
    Plot.line(toRows(hybridSeries),{x:"date",y:"v",stroke:colors.hybrid,strokeDasharray:"28,12",...dashed}),
    Plot.frame({stroke:"#000",strokeWidth:4}),
    Plot.axisX({ticks:tickDates,tickFormat:d3.utcFormat("%Y-%m"),tickSize:15,tickPadding:20,fontSize:51,strokeWidth:4,label:"Date",labelAnchor:"center",labelArrow:"none",labelOffset:148}),
    Plot.axisY({ticks:flowTicks,tickSize:15,tickPadding:18,fontSize:51,strokeWidth:4,label:"Streamflow (m³/s)",labelAnchor:"center",labelArrow:"none",labelOffset:202}),
    Plot.text(["Time Series of Streamflow"],{frameAnchor:"top",dy:-56,lineAnchor:"middle",fontSize:61}),
    Plot.text([labelB],{frameAnchor:"top-left",dx:206,dy:425,lineAnchor:"middle",fontSize:70,fontWeight:"bold",textAnchor:"start"})
  ]});

const wrap=document.getElementById("wrap");
wrap.append(chartA,chartB);

function legend(box,entries,textX,swL,swR){
  const el=document.createElement("div");el.className="legend";
  el.style.cssText=`left:${box[0]}px;top:${box[1]}px;width:${box[2]-box[0]}px;height:${box[3]-box[1]}px`;
  entries.forEach(e=>{
    const y=e.y-box[1]-4;
    const r=document.createElement("div");r.className="row";r.textContent=e.label;
    r.style.left=(textX-box[0]-4)+"px";r.style.top=(y-30)+"px";el.append(r);
    const s=document.createElementNS("http://www.w3.org/2000/svg","svg");
    s.setAttribute("class","sw");s.setAttribute("width",swR-swL);s.setAttribute("height",40);
    s.style.left=(swL-box[0]-4)+"px";s.style.top=(y-20)+"px";
    if(e.dot){
      const c=document.createElementNS(s.namespaceURI,"circle");
      c.setAttribute("cx",(swR-swL)/2);c.setAttribute("cy",20);c.setAttribute("r",8.5);
      c.setAttribute("fill",e.color);c.setAttribute("fill-opacity",.5);c.setAttribute("stroke",e.color);c.setAttribute("stroke-opacity",.5);c.setAttribute("stroke-width",3.6);s.append(c);
    }else{
      const l=document.createElementNS(s.namespaceURI,"line");
      l.setAttribute("x1",0);l.setAttribute("x2",swR-swL);l.setAttribute("y1",20);l.setAttribute("y2",20);
      l.setAttribute("stroke",e.color);l.setAttribute("stroke-width",7.6);if(e.dash)l.setAttribute("stroke-dasharray",e.dash);s.append(l);
    }
    el.append(s);
  });
  wrap.append(el);
}
legend([262,120,994,443],[
  {label:scatterNames[0],y:163,color:colors.swat,dot:true},
  {label:scatterNames[1],y:239,color:colors.lstm,dot:true},
  {label:scatterNames[2],y:316,color:colors.hybrid,dot:true},
  {label:"1:1 Line",y:393,color:"#000",dash:"28,12"}],426,281,384);
legend([3561,1926,4295,2244],[
  {label:lineNames[0],y:1967,color:colors.obs,dash:""},
  {label:lineNames[1],y:2044,color:colors.swat,dash:"49,12,8,12"},
  {label:lineNames[2],y:2121,color:colors.lstm,dash:"7.6,12.5"},
  {label:lineNames[3],y:2198,color:colors.hybrid,dash:"28,12"}],3726,3578,3685);

// The browser window can be narrower than the 4360px reference; fit the width to it.
const fit=Math.min(1,window.innerWidth/4360);
wrap.style.transform=`scale(${fit},1)`;
</script></body></html>
